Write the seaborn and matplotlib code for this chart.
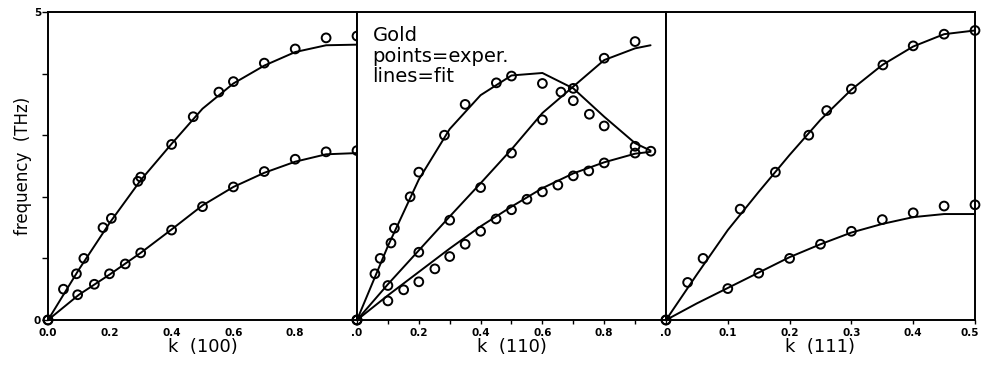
import matplotlib
matplotlib.use("Agg")
import matplotlib.pyplot as plt
import matplotlib.transforms as mtransforms
import numpy as np
import pandas as pd
import seaborn as sns

# ---- panel 1: k (100) ----
p1_upper_k = [0.0, 0.05, 0.092, 0.116, 0.178, 0.205, 0.291, 0.30, 0.40, 0.47, 0.553, 0.60, 0.70, 0.80, 0.90, 1.0]
p1_upper_f = [0.0, 0.50, 0.75, 1.00, 1.50, 1.65, 2.25, 2.32, 2.85, 3.30, 3.70, 3.87, 4.17, 4.40, 4.58, 4.61]
p1_lower_k = [0.0, 0.096, 0.15, 0.199, 0.25, 0.30, 0.40, 0.50, 0.60, 0.70, 0.80, 0.90, 1.0]
p1_lower_f = [0.0, 0.41, 0.58, 0.75, 0.91, 1.09, 1.46, 1.84, 2.16, 2.41, 2.61, 2.73, 2.75]
p1_fit_k = [0.0, 0.1, 0.2, 0.3, 0.4, 0.5, 0.6, 0.7, 0.8, 0.9, 1.0]
p1_fit_upper = [0.0, 0.82, 1.58, 2.27, 2.86, 3.43, 3.84, 4.13, 4.35, 4.46, 4.47]
p1_fit_lower = [0.0, 0.41, 0.74, 1.09, 1.47, 1.86, 2.16, 2.39, 2.57, 2.69, 2.71]

# ---- panel 2: k (110) ----
p2_hump_k = [0.0, 0.058, 0.075, 0.11, 0.121, 0.172, 0.20, 0.283, 0.35, 0.451, 0.50, 0.60, 0.66, 0.70, 0.752, 0.80, 0.90, 0.951]
p2_hump_f = [0.0, 0.75, 1.00, 1.25, 1.49, 2.00, 2.40, 3.00, 3.50, 3.85, 3.96, 3.84, 3.70, 3.56, 3.34, 3.15, 2.82, 2.74]
p2_mid_k = [0.0, 0.10, 0.20, 0.30, 0.40, 0.50, 0.60, 0.70, 0.80, 0.90]
p2_mid_f = [0.0, 0.56, 1.10, 1.62, 2.15, 2.71, 3.25, 3.76, 4.25, 4.52]
p2_low_k = [0.0, 0.10, 0.151, 0.20, 0.252, 0.30, 0.35, 0.40, 0.45, 0.50, 0.55, 0.60, 0.65, 0.70, 0.75, 0.80, 0.90]
p2_low_f = [0.0, 0.31, 0.49, 0.62, 0.83, 1.03, 1.23, 1.44, 1.64, 1.79, 1.96, 2.08, 2.19, 2.34, 2.42, 2.55, 2.71]
p2_fit_k = [0.0, 0.1, 0.2, 0.3, 0.4, 0.5, 0.6, 0.7, 0.8, 0.9, 0.95]
p2_fit_hump = [0.0, 1.20, 2.28, 3.10, 3.65, 3.97, 4.01, 3.76, 3.30, 2.87, 2.75]
p2_fit_mid = [0.0, 0.58, 1.13, 1.68, 2.22, 2.77, 3.36, 3.79, 4.22, 4.41, 4.46]
p2_fit_low = [0.0, 0.40, 0.78, 1.16, 1.52, 1.84, 2.14, 2.38, 2.56, 2.70, 2.73]

# ---- panel 3: k (111) ----
p3_upper_k = [0.0, 0.035, 0.060, 0.120, 0.177, 0.231, 0.26, 0.30, 0.351, 0.40, 0.45, 0.5]
p3_upper_f = [0.0, 0.61, 1.00, 1.80, 2.40, 3.00, 3.40, 3.75, 4.14, 4.45, 4.64, 4.70]
p3_lower_k = [0.0, 0.10, 0.15, 0.20, 0.25, 0.30, 0.35, 0.40, 0.45, 0.5]
p3_lower_f = [0.0, 0.51, 0.76, 1.00, 1.23, 1.44, 1.63, 1.74, 1.85, 1.87]
p3_fit_k = [0.0, 0.05, 0.1, 0.15, 0.2, 0.25, 0.3, 0.35, 0.4, 0.45, 0.5]
p3_fit_upper = [0.0, 0.74, 1.46, 2.08, 2.68, 3.25, 3.74, 4.14, 4.44, 4.64, 4.70]
p3_fit_lower = [0.0, 0.27, 0.52, 0.77, 1.02, 1.23, 1.42, 1.56, 1.67, 1.72, 1.72]

x_labels = [
    (["0.0", "0.2", "0.4", "0.6", "0.8"], [0.0, 0.2, 0.4, 0.6, 0.8]),
    ([".0", "0.2", "0.4", "0.6", "0.8"], [0.0, 0.2, 0.4, 0.6, 0.8]),
    ([".0", "0.1", "0.2", "0.3", "0.4", "0.5"], [0.0, 0.1, 0.2, 0.3, 0.4, 0.5]),
]
x_titles = ["k  (100)", "k  (110)", "k  (111)"]
x_limits = [1.0, 1.0, 0.5]

panels = [
    ([(p1_upper_k, p1_upper_f), (p1_lower_k, p1_lower_f)],
     [(p1_fit_k, p1_fit_upper), (p1_fit_k, p1_fit_lower)]),
    ([(p2_hump_k, p2_hump_f), (p2_mid_k, p2_mid_f), (p2_low_k, p2_low_f)],
     [(p2_fit_k, p2_fit_hump), (p2_fit_k, p2_fit_mid), (p2_fit_k, p2_fit_low)]),
    ([(p3_upper_k, p3_upper_f), (p3_lower_k, p3_lower_f)],
     [(p3_fit_k, p3_fit_upper), (p3_fit_k, p3_fit_lower)]),
]

sns.set_style("white")
plt.rcParams["font.family"] = ["DejaVu Sans"]
for key in ["text.color", "axes.labelcolor", "xtick.color", "ytick.color"]:
    plt.rcParams[key] = "black"

fig, axes = plt.subplots(1, 3, figsize=(9.81, 3.65), dpi=100)
fig.subplots_adjust(left=48 / 981, right=975 / 981, bottom=1 - 320 / 365, top=1 - 12 / 365, wspace=0)

for i, (ax, (points, fits)) in enumerate(zip(axes, panels)):
    for k, f in fits:
        df = pd.DataFrame({"k": k, "f": f})
        sns.lineplot(data=df, x="k", y="f", ax=ax, color="black", lw=1.4,
                     estimator=None, sort=False, clip_on=False)
    for k, f in points:
        df = pd.DataFrame({"k": k, "f": f})
        sns.scatterplot(data=df, x="k", y="f", ax=ax, marker="o", s=40,
                        facecolor="none", edgecolor="black", linewidth=1.4,
                        clip_on=False, zorder=3)

    ax.set_xlim(0, x_limits[i])
    ax.set_ylim(0, 5)
    labels, ticks = x_labels[i]
    ax.set_xticks(ticks)
    ax.set_xticklabels(labels, fontsize=7.5, fontweight="bold")
    ax.set_xlabel(x_titles[i], fontsize=13, labelpad=0)
    for side in ax.spines.values():
        side.set_linewidth(1.4)
        side.set_color("black")
    if i == 0:
        ax.tick_params(axis="x", length=0, pad=6)
        ax.set_yticks([0, 1, 2, 3, 4, 5])
        ax.set_yticklabels(["0", "", "", "", "", "5"], fontsize=7.5, fontweight="bold")
        ax.tick_params(axis="y", direction="out", length=4, width=1, pad=1, left=True)
        ax.set_ylabel("frequency  (THz)", fontsize=12, labelpad=1)
    else:
        ax.set_xticks(np.arange(0.1, x_limits[i], 0.1), minor=True)
        ax.tick_params(axis="x", which="both", direction="out", length=3, width=1, pad=3, bottom=True)
        ax.set_yticks([])
        ax.set_ylabel("")

# nudge the last "0.5" label so it stays inside the canvas
last = axes[2].get_xticklabels()[-1]
last.set_transform(last.get_transform() + mtransforms.ScaledTranslation(-5 / 100, 0, fig.dpi_scale_trans))

axes[1].text(0.05, 0.955, "Gold\npoints=exper.\nlines=fit", transform=axes[1].transAxes,
             fontsize=14, va="top", ha="left", linespacing=1.12)

fig.savefig("out.png", dpi=100)
